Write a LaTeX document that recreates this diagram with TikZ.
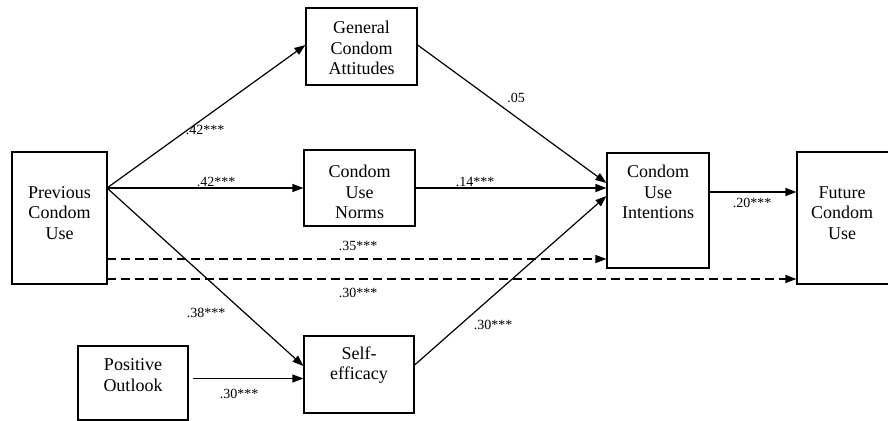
\documentclass[tikz,border=0pt]{standalone}
\usepackage{fontspec}
\setmainfont{Liberation Serif}
\usetikzlibrary{arrows.meta}
\begin{document}
\begin{tikzpicture}[x=1pt,y=-1pt,
  box/.style={draw, line width=1.2pt, inner sep=0pt},
  txt/.style={align=center, inner sep=0pt, font=\fontsize{18}{20.5}\selectfont},
  lbl/.style={inner sep=0pt, font=\fontsize{14}{15}\selectfont},
  arr/.style={line width=1.2pt, -{Triangle[length=11pt,width=8pt]}},
  darr/.style={arr, dash pattern=on 9pt off 5pt}]
\useasboundingbox (0,0) rectangle (888,420);
\clip (0,0) rectangle (888,420);
% boxes
\node[box, minimum width=95pt, minimum height=132pt] (prev) at (59.5,218) {};
\node[box, minimum width=111pt, minimum height=77pt] (gen) at (361.5,46.5) {};
\node[box, minimum width=111pt, minimum height=76pt] (norms) at (359.5,188) {};
\node[box, minimum width=102pt, minimum height=115pt] (intent) at (658,210.5) {};
\node[box, minimum width=110pt, minimum height=132pt] (future) at (852,218) {};
\node[box, minimum width=110pt, minimum height=77pt] (self) at (359,374.5) {};
\node[box, minimum width=110pt, minimum height=74pt] (pos) at (133,383) {};
% texts
\node[txt] (prevt) at (59.5,213) {Previous\\Condom\\Use};
\node[txt] (gent) at (361.5,48) {General\\Condom\\Attitudes};
\node[txt] (normst) at (359.5,192) {Condom\\Use\\Norms};
\node[txt] (intentt) at (658,192) {Condom\\Use\\Intentions};
\node[txt] (futuret) at (842,213) {Future\\Condom\\Use};
\node[txt] (selft) at (359,365) {Self-\\efficacy};
\node[txt] (post) at (133,375) {Positive\\Outlook};
% connectors
\coordinate (po) at (107,188);
\draw[arr] (po) -- ([yshift=1.5pt]gen.west);
\draw[arr] (po) -- (norms.west);
\draw[arr] (po) -- ([yshift=8.5pt]self.west);
\coordinate (ps) at ([xshift=4pt,yshift=4.5pt]pos.east);
\draw[arr] (ps) -- (ps -| self.west);
\draw[arr] ([yshift=1.5pt]gen.east) -- ([yshift=27.5pt]intent.west);
\draw[arr] (norms.east) -- (norms.east -| intent.west);
\draw[arr] ([yshift=9.5pt]self.east) -- ([yshift=14.5pt]intent.west);
\draw[arr] ([yshift=18.5pt]intent.east) -- ([yshift=26pt]future.west);
\coordinate (d1) at (107,259);
\coordinate (d2) at (107,279);
\draw[darr] (d1) -- (d1 -| intent.west);
\draw[darr] (d2) -- (d2 -| future.west);
% labels
\node[lbl] (l1) at (205,130) {.42***};
\node[lbl] (l2) at (216,182) {.42***};
\node[lbl] (l3) at (516,98) {.05};
\node[lbl] (l4) at (475,182) {.14***};
\node[lbl] (l5) at (358,246) {.35***};
\node[lbl] (l6) at (358,293) {.30***};
\node[lbl] (l7) at (206,313) {.38***};
\node[lbl] (l8) at (239,394) {.30***};
\node[lbl] (l9) at (493,325) {.30***};
\node[lbl] (l10) at (752,203) {.20***};
\end{tikzpicture}
\end{document}
